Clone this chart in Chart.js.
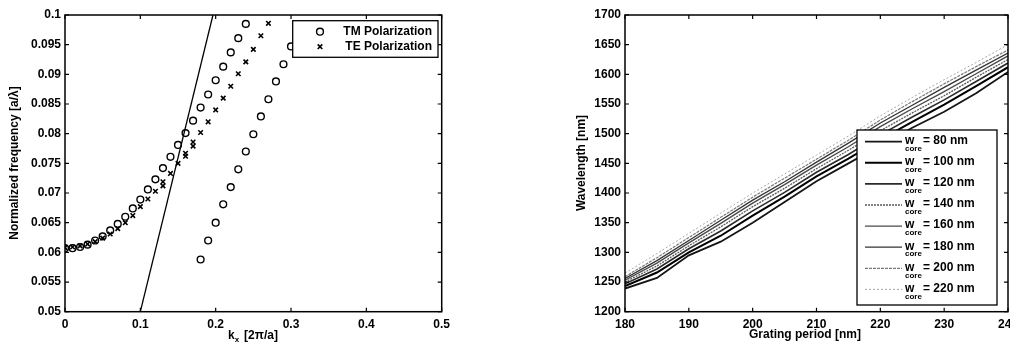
<!DOCTYPE html>
<html><head><meta charset="utf-8">
<script src="https://cdn.jsdelivr.net/npm/chart.js@4.4.1/dist/chart.umd.min.js"></script>
<style>
html,body{margin:0;padding:0;background:#fff;overflow:hidden;width:1010px;height:345px;}
#w1{position:absolute;left:0;top:0;width:470px;height:345px;}
#w2{position:absolute;left:520px;top:0;width:510px;height:345px;}
</style></head><body>
<div id="w1"><canvas id="c1"></canvas></div>
<div id="w2"><canvas id="c2"></canvas></div>
<script>
// ---------- Left chart data ----------
const tmK1 = [0,0.01,0.02,0.03,0.04,0.05,0.06,0.07,0.08,0.09,0.10,0.11,0.12,0.13,0.14,0.15,0.16,0.17,0.18,0.19,0.20,0.21,0.22,0.23,0.24];
const tmF1 = [0.0607,0.0607,0.0609,0.0613,0.0620,0.0627,0.0637,0.0648,0.0660,0.0674,0.0689,0.0706,0.0723,0.0742,0.0761,0.0781,0.0801,0.0822,0.0844,0.0866,0.0890,0.0913,0.0937,0.0961,0.0985];
const tmK2 = [0.18,0.19,0.20,0.21,0.22,0.23,0.24,0.25,0.26,0.27,0.28,0.29,0.30];
const tmF2 = [0.0588,0.0620,0.0650,0.0681,0.0710,0.0740,0.0770,0.0799,0.0829,0.0858,0.0888,0.0917,0.0947];
const teK = [0,0.01,0.02,0.03,0.04,0.05,0.06,0.07,0.08,0.09,0.10,0.11,0.12,0.13,0.14,0.15,0.16,0.17,0.18,0.19,0.20,0.21,0.22,0.23,0.24,0.25,0.26,0.27,0.13,0.16,0.17];
const teF = [0.0608,0.0609,0.0611,0.0614,0.0618,0.0624,0.0631,0.0640,0.0650,0.0662,0.0677,0.0690,0.0703,0.0719,0.0733,0.0750,0.0767,0.0786,0.0802,0.0820,0.0840,0.0860,0.0880,0.0901,0.0921,0.0942,0.0965,0.0986,0.0712,0.0762,0.0779];
const lightK = [0.1,0.1964];
const lightF = [0.05,0.1];
const kTicks = [0,0.1,0.2,0.3,0.4,0.5];
const kLabels = ['0','0.1','0.2','0.3','0.4','0.5'];
const fTicks = [0.05,0.055,0.06,0.065,0.07,0.075,0.08,0.085,0.09,0.095,0.1];
const fLabels = ['0.05','0.055','0.06','0.065','0.07','0.075','0.08','0.085','0.09','0.095','0.1'];

// ---------- Right chart data ----------
const periods = [180,185,190,195,200,205,210,215,220,225,230,235,240];
const w80  = [1239,1257,1295,1318,1350,1385,1420,1450,1480,1510,1537,1568,1604];
const w100 = [1243,1266,1300,1328,1362,1394,1428,1458,1490,1520,1549,1580,1612];
const w120 = [1247,1272,1306,1336,1370,1401,1435,1465,1498,1528,1557,1588,1619];
const w140 = [1250,1277,1311,1343,1377,1408,1441,1472,1505,1535,1564,1595,1625];
const w160 = [1253,1282,1316,1349,1383,1414,1447,1478,1512,1542,1571,1601,1631];
const w180 = [1256,1286,1320,1354,1388,1419,1452,1484,1518,1548,1578,1607,1636];
const w200 = [1259,1291,1325,1359,1393,1425,1457,1489,1523,1554,1584,1613,1641];
const w220 = [1265,1298,1332,1366,1400,1432,1464,1496,1530,1561,1591,1620,1650];
const coreLabels = ['80','100','120','140','160','180','200','220'];
const pTicks = [180,190,200,210,220,230,240];
const pLabels = ['180','190','200','210','220','230','240'];
const wlTicks = [1200,1250,1300,1350,1400,1450,1500,1550,1600,1650,1700];
const wlLabels = ['1200','1250','1300','1350','1400','1450','1500','1550','1600','1650','1700'];

const FONT = '"Liberation Sans", Arial, sans-serif';
const TICKFONT = {family: FONT, size: 12, weight: 'bold'};

function pts(xs, ys){ return xs.map((x,i)=>({x:x, y:ys[i]})); }

function framePlugin(cfg){
  return {
    id: 'frame'+cfg.id,
    afterDraw(chart){
      const ctx = chart.ctx, a = chart.chartArea;
      const xs = chart.scales.x, ys = chart.scales.y;
      ctx.save();
      ctx.strokeStyle = '#000';
      ctx.lineWidth = 1.5;
      ctx.strokeRect(a.left, a.top, a.right-a.left, a.bottom-a.top);
      ctx.lineWidth = 1.2;
      ctx.beginPath();
      xs.ticks.forEach(t=>{
        const p = xs.getPixelForValue(t.value);
        ctx.moveTo(p, a.bottom); ctx.lineTo(p, a.bottom-4);
        ctx.moveTo(p, a.top); ctx.lineTo(p, a.top+4);
      });
      ys.ticks.forEach(t=>{
        const p = ys.getPixelForValue(t.value);
        ctx.moveTo(a.left, p); ctx.lineTo(a.left+4, p);
        ctx.moveTo(a.right, p); ctx.lineTo(a.right-4, p);
      });
      ctx.stroke();
      ctx.fillStyle = '#000';
      cfg.draw(ctx, chart);
      ctx.restore();
    }
  };
}

function scaleSetup(ticks, labels, min, max, isY, size){
  return {
    type: 'linear', min: min, max: max,
    afterBuildTicks(s){ s.ticks = ticks.map(v=>({value:v})); },
    afterFit(s){ if(isY) s.width = size; else s.height = size; },
    ticks: { font: TICKFONT, color: '#000', padding: isY ? 4 : 6, maxRotation: 0, autoSkip: false,
             callback: (v, i) => labels[i] },
    grid: { display: false, drawTicks: false },
    border: { display: false }
  };
}

// ---------- Left chart ----------
new Chart(document.getElementById('c1'), {
  type: 'scatter',
  data: { datasets: [
    { label: 'TM Polarization', data: pts(tmK1, tmF1).concat(pts(tmK2, tmF2)), pointStyle: 'circle',
      pointRadius: 3.4, pointBorderWidth: 1.4, borderColor: '#000', backgroundColor: 'rgba(0,0,0,0)', showLine: false },
    { label: 'TE Polarization', data: pts(teK, teF), pointStyle: 'crossRot',
      pointRadius: 3.2, pointBorderWidth: 1.6, borderColor: '#000', backgroundColor: '#000', showLine: false },
    { label: 'light line', data: pts(lightK, lightF), showLine: true, borderColor: '#000', borderWidth: 1.3,
      pointRadius: 0 }
  ]},
  options: {
    responsive: true, maintainAspectRatio: false, animation: false,
    layout: { padding: { left: 0, top: 15, right: 28.3, bottom: 0 } },
    plugins: { legend: { display: false }, tooltip: { enabled: false } },
    scales: {
      x: scaleSetup(kTicks, kLabels, 0, 0.5, false, 33.3),
      y: scaleSetup(fTicks, fLabels, 0.05, 0.1, true, 65)
    }
  },
  plugins: [framePlugin({id: 1, draw(ctx, chart){
    // legend
    ctx.fillStyle = '#fff';
    ctx.fillRect(292.7, 20.7, 145.3, 36.6);
    ctx.strokeStyle = '#000'; ctx.lineWidth = 1.3;
    ctx.strokeRect(292.7, 20.7, 145.3, 36.6);
    ctx.lineWidth = 1.4;
    ctx.beginPath(); ctx.arc(320, 31.7, 3.4, 0, Math.PI*2); ctx.stroke();
    ctx.lineWidth = 1.6;
    ctx.beginPath();
    ctx.moveTo(317.7, 44.4); ctx.lineTo(322.3, 49); ctx.moveTo(322.3, 44.4); ctx.lineTo(317.7, 49);
    ctx.stroke();
    ctx.fillStyle = '#000';
    ctx.font = 'bold 12px ' + FONT;
    ctx.textAlign = 'right'; ctx.textBaseline = 'middle';
    const ds = chart.data.datasets;
    ctx.fillText(ds[0].label, 432, 32);
    ctx.fillText(ds[1].label, 432, 47);
    // axis titles
    ctx.textAlign = 'left';
    const kw = ctx.measureText('k').width;
    ctx.font = 'bold 12px ' + FONT;
    const rest = ' [2\u03c0/a]';
    const full = kw + 7 + ctx.measureText(rest).width;
    const x0 = 253.5 - full/2;
    ctx.fillText('k', x0, 336);
    ctx.font = 'bold 8px ' + FONT;
    ctx.fillText('x', x0 + kw, 340);
    ctx.font = 'bold 12px ' + FONT;
    ctx.fillText(rest, x0 + kw + 6, 336);
    ctx.save();
    ctx.translate(15, 163); ctx.rotate(-Math.PI/2);
    ctx.textAlign = 'center';
    ctx.fillText('Normalized frequency [a/\u03bb]', 0, 0);
    ctx.restore();
  }})]
});

// ---------- Right chart ----------
const series = [w80, w100, w120, w140, w160, w180, w200, w220];
const colors = ['#151515', '#000000', '#2a2a2a', '#5a5a5a', '#4a4a4a', '#333333', '#7a7a7a', '#a8a8a8'];
const widths = [1.8, 2, 1.6, 1.3, 1.4, 1.3, 1.2, 1];
const dashes = [[], [], [], [2,1], [], [], [3,1], [2,2]];
new Chart(document.getElementById('c2'), {
  type: 'scatter',
  data: { datasets: series.map((s, i) => ({
    label: coreLabels[i] + ' nm', data: pts(periods, s), showLine: true, pointRadius: 0,
    borderColor: colors[i], borderWidth: widths[i], borderDash: dashes[i]
  })).reverse() },
  options: {
    responsive: true, maintainAspectRatio: false, animation: false,
    layout: { padding: { left: 0, top: 15, right: 22, bottom: 0 } },
    plugins: { legend: { display: false }, tooltip: { enabled: false } },
    scales: {
      x: scaleSetup(pTicks, pLabels, 180, 240, false, 33.3),
      y: scaleSetup(wlTicks, wlLabels, 1200, 1700, true, 105)
    }
  },
  plugins: [framePlugin({id: 2, draw(ctx, chart){
    const L = 337, T = 130, W = 140, H = 175;
    ctx.fillStyle = '#fff'; ctx.fillRect(L, T, W, H);
    ctx.strokeStyle = '#000'; ctx.lineWidth = 1.3; ctx.strokeRect(L, T, W, H);
    for (let i = 0; i < 8; i++) {
      const y = 141.7 + i * 21.1;
      ctx.strokeStyle = colors[i]; ctx.lineWidth = widths[i]; ctx.setLineDash(dashes[i]);
      ctx.beginPath(); ctx.moveTo(345, y); ctx.lineTo(382, y); ctx.stroke();
      ctx.setLineDash([]);
      ctx.fillStyle = '#000';
      ctx.textBaseline = 'middle'; ctx.textAlign = 'left';
      ctx.font = 'bold 12px ' + FONT;
      ctx.fillText('w', 385, y - 1);
      ctx.font = 'bold 8px ' + FONT;
      ctx.fillText('core', 385, y + 7);
      ctx.font = 'bold 12px ' + FONT;
      ctx.fillText('= ' + coreLabels[i] + ' nm', 403, y - 1);
    }
    ctx.fillStyle = '#000';
    ctx.font = 'bold 12px ' + FONT;
    ctx.textAlign = 'center'; ctx.textBaseline = 'middle';
    ctx.fillText('Grating period [nm]', 285, 335);
    ctx.save();
    ctx.translate(62, 163); ctx.rotate(-Math.PI/2);
    ctx.fillText('Wavelength [nm]', 0, 0);
    ctx.restore();
  }})]
});
</script>
</body></html>
